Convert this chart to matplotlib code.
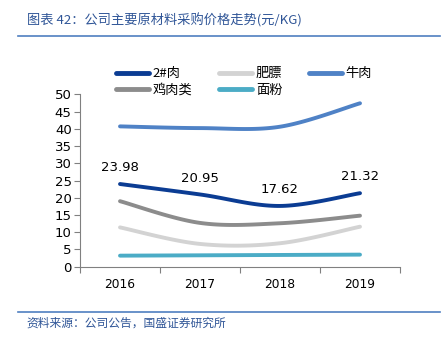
import numpy as np
import matplotlib
matplotlib.use("Agg")
import matplotlib.pyplot as plt
from matplotlib.lines import Line2D

plt.rcParams['font.family'] = ['Noto Sans CJK SC', 'DejaVu Sans']

years = ["2016", "2017", "2018", "2019"]
pork2 = [23.98, 20.95, 17.62, 21.32]
fat = [11.4, 6.6, 6.8, 11.6]
beef = [40.7, 40.2, 40.6, 47.4]
chicken = [19.0, 12.7, 12.6, 14.8]
flour = [3.2, 3.3, 3.4, 3.5]

series = [
    ("2#肉", pork2, "#0B3C93"),
    ("肥膘", fat, "#D3D3D3"),
    ("牛肉", beef, "#4F82C6"),
    ("鸡肉类", chicken, "#8C8C8C"),
    ("面粉", flour, "#4BACC6"),
]


def smooth(xs, ys, n=30):
    # Excel-like smoothed line: cubic bezier with 1/6 tangent
    p = np.column_stack([xs, ys]).astype(float)
    ext = np.vstack([p[0], p, p[-1]])
    out = []
    t = np.linspace(0, 1, n)[:, None]
    for i in range(len(p) - 1):
        p0 = ext[i + 1]
        p3 = ext[i + 2]
        c1 = p0 + (ext[i + 2] - ext[i]) / 6
        c2 = p3 - (ext[i + 3] - ext[i + 1]) / 6
        seg = (1 - t) ** 3 * p0 + 3 * (1 - t) ** 2 * t * c1 + 3 * (1 - t) * t ** 2 * c2 + t ** 3 * p3
        out.append(seg if i == 0 else seg[1:])
    s = np.vstack(out)
    return s[:, 0], s[:, 1]


fig = plt.figure(figsize=(4.42, 3.39), dpi=100)
ax = fig.add_axes([0.181, 0.2133, 0.724, 0.5085])

x = np.arange(len(years)) + 0.5
for name, vals, col in series:
    sx, sy = smooth(x, vals)
    ax.plot(sx, sy, color=col, lw=2.8, solid_capstyle='round')

for xi, v in zip(x, pork2):
    ax.annotate(f"{v:.2f}", (xi, v), xytext=(0, 7), textcoords='offset points',
                ha='center', va='bottom', fontsize=9.5, family='DejaVu Sans')

ax.set_xlim(0, 4)
ax.set_ylim(0, 50)
ax.set_yticks(np.arange(0, 51, 5))
ax.set_xticks(np.arange(0, 5))
ax.set_xticklabels([])
ax.set_xticks(x, minor=True)
ax.set_xticklabels(years, minor=True, fontsize=8.8, family='DejaVu Sans')
ax.tick_params(axis='x', which='minor', length=0, pad=8)
ax.tick_params(axis='x', which='major', length=4, color='#808080')
ax.tick_params(axis='y', length=4, color='#808080', labelsize=9.5, pad=2)
for lab in ax.get_yticklabels():
    lab.set_family('DejaVu Sans')
for s in ['top', 'right']:
    ax.spines[s].set_visible(False)
for s in ['left', 'bottom']:
    ax.spines[s].set_color('#808080')

# legend fills column-wise; reorder so rows read 2#肉 肥膘 牛肉 / 鸡肉类 面粉
order = [0, 3, 1, 4, 2]
handles = [Line2D([], [], color=series[i][2], lw=3.5, solid_capstyle='round') for i in order]
labels = [series[i][0] for i in order]
leg = fig.legend(handles, labels, ncol=3, loc='upper left', bbox_to_anchor=(0.262, 0.802),
                 frameon=False, fontsize=9.5, handlelength=2.5, handletextpad=0.3,
                 columnspacing=2.0, labelspacing=0.3, borderaxespad=0, borderpad=0)

title_col = "#2F5597"
fig.text(0.06, 0.94, "图表 42：公司主要原材料采购价格走势(元/KG)", color=title_col,
         fontsize=9.5, style='italic', va='center', ha='left')
fig.add_artist(Line2D([0.04, 0.995], [0.893, 0.893], color="#4F7FC0", lw=1.2))
fig.add_artist(Line2D([0.04, 0.995], [0.08, 0.08], color="#4F7FC0", lw=1.2))
fig.text(0.06, 0.048, "资料来源：公司公告，国盛证券研究所", color=title_col,
         fontsize=8.5, style='italic', va='center', ha='left')

fig.savefig("out.png", dpi=100)
